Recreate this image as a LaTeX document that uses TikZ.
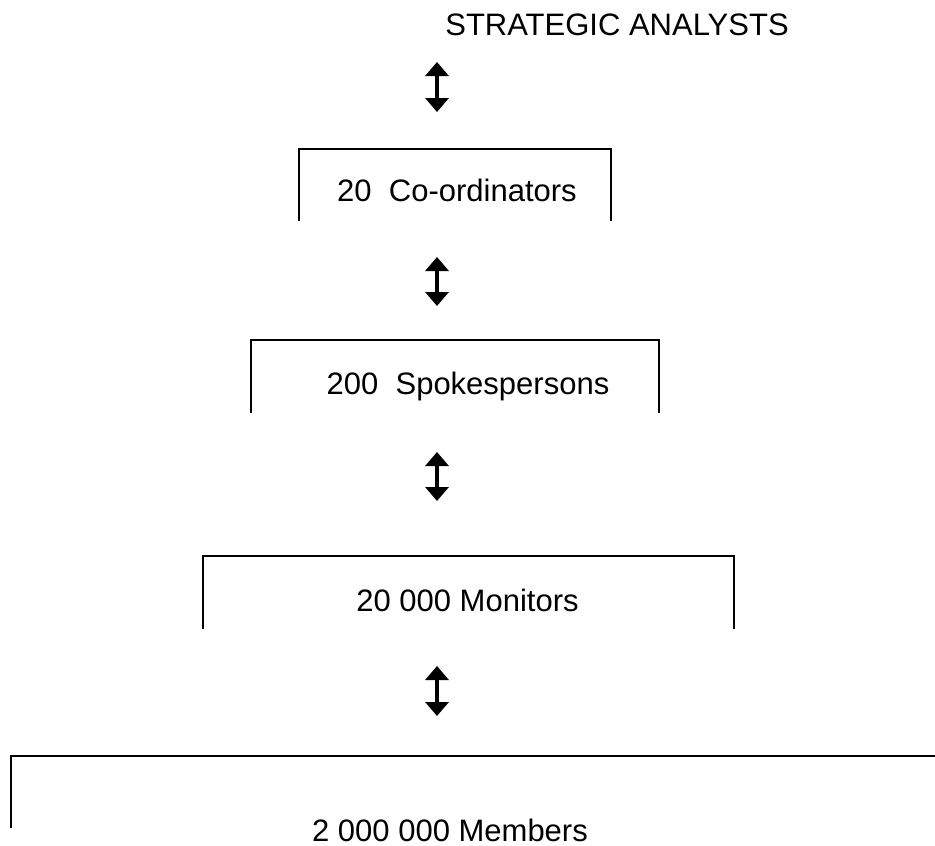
\documentclass[tikz,border=0pt]{standalone}
\usepackage{fontspec}
\setmainfont{Liberation Sans}
\usetikzlibrary{arrows.meta}
\begin{document}
\begin{tikzpicture}[x=1pt,y=-1pt,
  lbl/.style={font=\fontsize{31}{36}\selectfont, inner sep=0pt, anchor=center},
  bracket/.style={line width=1.6pt},
  updown/.style={line width=3.5pt, {Triangle[width=23pt,length=14pt]}-{Triangle[width=23pt,length=14pt]}}]
\useasboundingbox (0,0) rectangle (935,846);
% title
\node[lbl] (sa) at (617,25) {STRATEGIC ANALYSTS};
% arrows
\coordinate (a1t) at (437,62);  \coordinate (a1b) at (437,112);
\coordinate (a2t) at (437,257); \coordinate (a2b) at (437,306);
\coordinate (a3t) at (437,452); \coordinate (a3b) at (437,501);
\coordinate (a4t) at (437,666); \coordinate (a4b) at (437,716);
\draw[updown] (a1t) -- (a1b);
\draw[updown] (a2t) -- (a2b);
\draw[updown] (a3t) -- (a3b);
\draw[updown] (a4t) -- (a4b);
% box 1
\draw[bracket] (299,221) -- (299,149) -- (611,149) -- (611,221);
\node[lbl] (co) at (457,190) {20\ \ Co-ordinators};
% box 2
\draw[bracket] (251,413) -- (251,340) -- (659,340) -- (659,413);
\node[lbl] (sp) at (468,386) {200\ \ Spokespersons};
% box 3
\draw[bracket] (203,629) -- (203,556) -- (734,556) -- (734,629);
\node[lbl] (mo) at (467.5,600) {20 000 Monitors};
% box 4
\draw[bracket] (11,828) -- (11,756) -- (940,756);
\node[lbl] (me) at (450,830) {2 000 000 Members};
\end{tikzpicture}
\end{document}
